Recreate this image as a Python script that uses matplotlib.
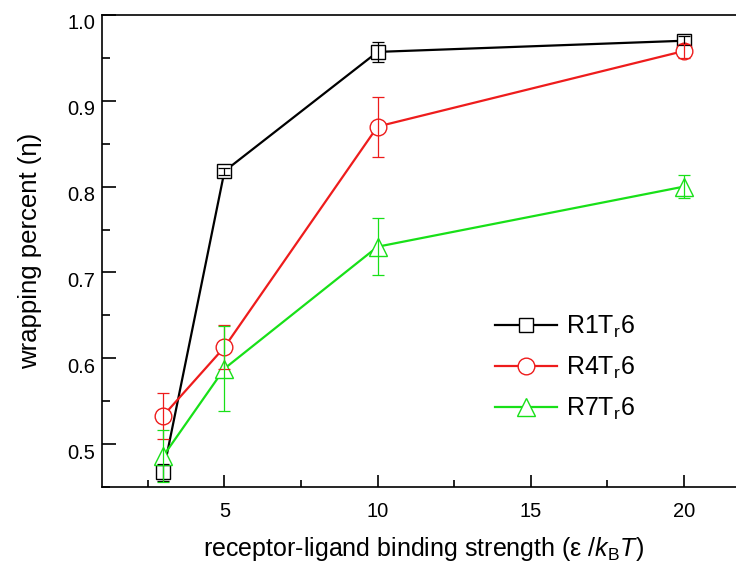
import matplotlib.pyplot as plt
import matplotlib.transforms as mtransforms
from matplotlib.ticker import MultipleLocator

plt.rcParams['font.family'] = ['Liberation Sans', 'DejaVu Sans']
plt.rcParams['mathtext.fontset'] = 'custom'
plt.rcParams['mathtext.rm'] = 'Liberation Sans'
plt.rcParams['mathtext.it'] = 'Liberation Sans:italic'

# binding strength
strength = [3, 5, 10, 20]

# wrapping percent and error bars
r1_eta = [0.467, 0.818, 0.957, 0.970]
r1_err = [0.010, 0.004, 0.012, 0.005]
r4_eta = [0.533, 0.613, 0.870, 0.958]
r4_err = [0.027, 0.026, 0.035, 0.008]
r7_eta = [0.486, 0.588, 0.730, 0.800]
r7_err = [0.030, 0.050, 0.033, 0.013]

labels = ['R1T$_\\mathregular{r}$6', 'R4T$_\\mathregular{r}$6', 'R7T$_\\mathregular{r}$6']
colors = ['#000000', '#ee1c1c', '#18e018']
markers = ['s', 'o', '^']
msizes = [10, 12, 13]

fig = plt.figure(figsize=(7.36, 5.66), dpi=100)
ax = fig.add_axes([102 / 736, 79 / 566, 643 / 736, 472 / 566])

series = [(r1_eta, r1_err), (r4_eta, r4_err), (r7_eta, r7_err)]
for (eta, err), lab, c, m, ms in zip(series, labels, colors, markers, msizes):
    ax.plot(strength, eta, color=c, lw=1.6, marker=m, ms=ms,
            mfc='white', mec=c, mew=1.0, label=lab, zorder=2)
    ax.errorbar(strength, eta, yerr=err, fmt='none', ecolor=c,
                elinewidth=0.9, capsize=4, capthick=0.9, zorder=3)

ax.set_xlim(1, 22)
ax.set_ylim(0.45, 1.0)
ax.xaxis.set_major_locator(MultipleLocator(5))
ax.xaxis.set_minor_locator(MultipleLocator(2.5))
ax.yaxis.set_major_locator(MultipleLocator(0.1))
ax.yaxis.set_minor_locator(MultipleLocator(0.05))
ax.yaxis.set_major_formatter(plt.FuncFormatter(lambda v, p: f'{v:.1f}'))

ax.tick_params(axis='both', which='both', direction='in',
               width=1.2, top=False, right=False)
ax.tick_params(axis='x', which='major', length=9, pad=11, labelsize=14.5)
ax.tick_params(axis='x', which='minor', length=5)
ax.tick_params(axis='y', which='major', length=10, pad=5, labelsize=14.5)
ax.tick_params(axis='y', which='minor', length=6)
for s in ax.spines.values():
    s.set_linewidth(1.2)

# y tick labels sit a little below their ticks in the original
shift = mtransforms.ScaledTranslation(0, -5 / 72, fig.dpi_scale_trans)
for lab in ax.yaxis.get_majorticklabels():
    lab.set_transform(lab.get_transform() + shift)

ax.set_xlabel('receptor-ligand binding strength (ε /$\\mathit{k}_\\mathregular{B}$$\\mathit{T}$)',
              fontsize=18, labelpad=10)
ax.set_ylabel('wrapping percent (η)', fontsize=18.5, labelpad=18)

ax.legend(loc='center left', bbox_to_anchor=(0.611, 0.252), frameon=False,
          fontsize=18, handlelength=2.5, handletextpad=0.36, labelspacing=0.6,
          borderpad=0, borderaxespad=0)

fig.savefig('out.png', dpi=100)
